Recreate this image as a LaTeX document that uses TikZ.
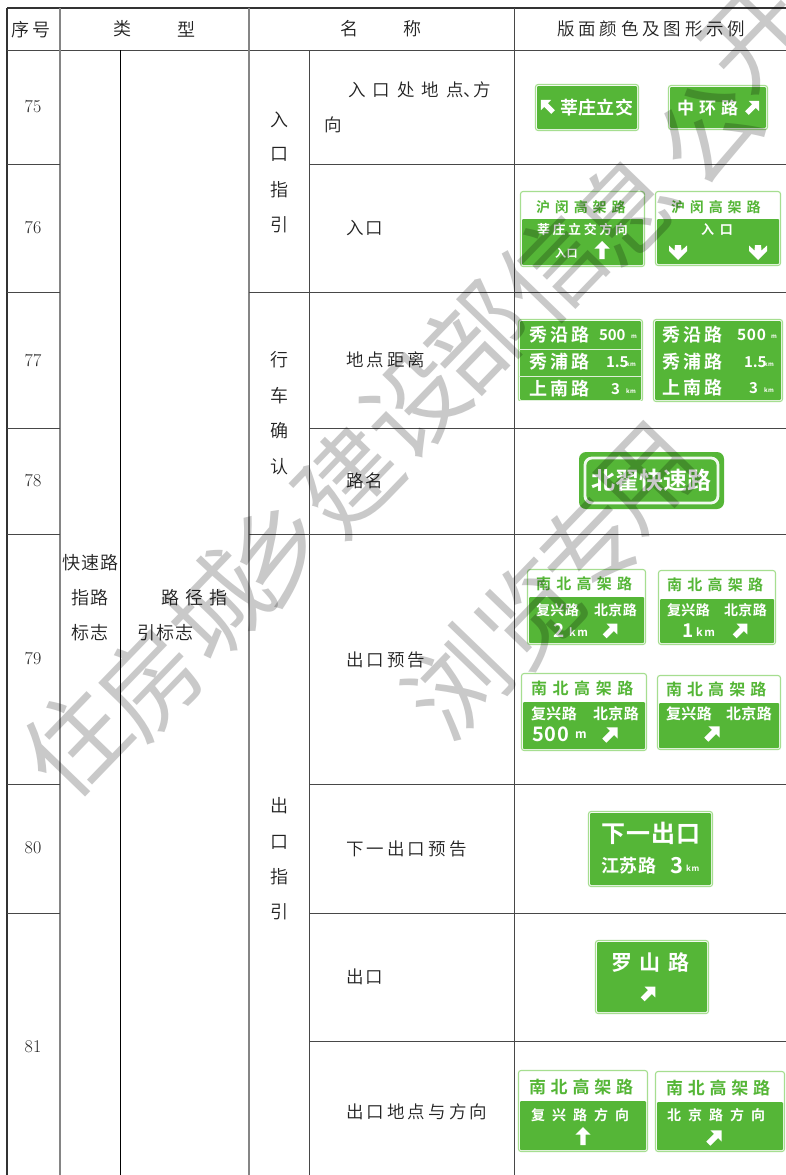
\documentclass[tikz,border=0pt]{standalone}
\usepackage{fontspec}
\newfontfamily\cjk{Noto Sans CJK SC}[UprightFont={* DemiLight}]
\newfontfamily\cjkm{Noto Sans CJK SC}
\newfontfamily\cjkb{Noto Sans CJK SC Bold}
\definecolor{sg}{HTML}{55B637}
\definecolor{sl}{HTML}{A6DE90}
\definecolor{wm}{HTML}{C9C9C9}
\definecolor{ink}{HTML}{222222}
\newcounter{tn}
% table text: x y size letterspace text
\newcommand{\tx}[5]{\stepcounter{tn}\node[tb] (t\arabic{tn}) at (#1,#2) {\fontsize{#3}{#3}\selectfont\cjk\addfontfeature{LetterSpace=#4}#5};}
% serial number
\newcommand{\nm}[3]{\stepcounter{tn}\node[tb,anchor=center] (t\arabic{tn}) at (#1,#2) {\fontsize{18}{18}\selectfont\addfontfeature{LetterSpace=9}#3};}
% sign text: x y size letterspace colour text
\newcommand{\st}[6]{\stepcounter{tn}\node[tb,text=#5] (t\arabic{tn}) at (#1,#2) {\fontsize{#3}{#3}\selectfont\cjkb\addfontfeature{LetterSpace=#4}#6};}
% plain sign: x1 y1 x2 y2
\newcommand{\sgn}[4]{%
  \fill[white,rounded corners=2.5] (#1,#2) rectangle (#3,#4);
  \draw[sl,line width=1.1,rounded corners=2.5] (#1+.5,#2+.5) rectangle (#3-.5,#4-.5);
  \fill[sg,rounded corners=1.2] (#1+2,#2+2) rectangle (#3-2,#4-2);}
% two-part sign: x1 y1 x2 y2 ybreak
\newcommand{\sgnt}[5]{%
  \fill[white,rounded corners=2.5] (#1,#2) rectangle (#3,#4);
  \draw[sl,line width=1.1,rounded corners=2.5] (#1+.5,#2+.5) rectangle (#3-.5,#4-.5);
  \fill[sg,rounded corners=1] (#1+2,#5) rectangle (#3-2,#4-2);}
% arrow: x y rotation scale
\newcommand{\arw}[4]{\fill[white,shift={(#1,#2)},rotate=#3,scale=#4] (0,-10) -- (8.5,-1.5) -- (3,-1.5) -- (3,10) -- (-3,10) -- (-3,-1.5) -- (-8.5,-1.5) -- cycle;}
% double-headed down arrow: x y
\newcommand{\dar}[2]{\fill[white,shift={(#1,#2)}] (0,8) -- (-9,-1) -- (-9,-6.5) -- (-3.5,-1.5) -- (-3,-7) -- (3,-7) -- (3.5,-1.5) -- (9,-6.5) -- (9,-1) -- cycle;}
\newcommand{\wmc}[3]{\stepcounter{tn}\node[wmark] (t\arabic{tn}) at (#1,#2) {#3};}
\tikzset{
  tb/.style={anchor=west,inner sep=0,outer sep=0,text=ink},
  wmark/.style={inner sep=0,text=wm,rotate=46,font={\fontsize{100}{100}\selectfont\cjkm}},
  thin line/.style={line width=1,draw=black!72},
  mid line/.style={line width=1.8,draw=black!48}
}
\begin{document}
\begin{tikzpicture}[x=1pt,y=-1pt]
\useasboundingbox (0,0) rectangle (786,1175);
\fill[white] (0,0) rectangle (786,1175);
% table rules
\draw[line width=1.8,draw=black!80] (7,8) -- (786,8);
\draw[line width=2,draw=black!80] (7,8) -- (7,1175);
\draw[thin line] (7,50.5) -- (786,50.5);
\draw[mid line] (60,8) -- (60,1175);
\draw[line width=.9,draw=black] (120.5,50) -- (120.5,1175);
\draw[mid line] (249,8) -- (249,1175);
\draw[thin line] (309.5,50) -- (309.5,1175);
\draw[thin line] (514,8) -- (514,1175);
\foreach \y in {164,292,428,534,784,913} \draw[thin line] (7,\y) -- (60,\y);
\foreach \y in {164,428,784,913,1041} \draw[thin line] (309,\y) -- (786,\y);
\foreach \y in {292,534} \draw[thin line] (249,\y) -- (786,\y);
% header
\tx{12}{30}{18}{12}{序号}
\tx{113}{29}{18}{0}{类}
\tx{177}{29}{18}{0}{型}
\tx{340}{29}{18}{0}{名}
\tx{403}{29}{18}{0}{称}
\tx{557}{29}{17.5}{22}{版面颜色及图形示例}
% serial numbers
\nm{33}{107}{75}
\nm{33}{228}{76}
\nm{33}{361}{77}
\nm{33}{481}{78}
\nm{33}{659}{79}
\nm{33}{848}{80}
\nm{33}{1047}{81}
% type cells
\tx{62}{563}{18}{7}{快速路}
\tx{71}{598}{18}{10}{指路}
\tx{71}{633}{18}{10}{标志}
\tx{161}{598}{18}{35}{路径指}
\tx{137}{633}{18}{7}{引标志}
% sub-category cells
\tx{270}{120}{18}{0}{入}
\tx{270}{154}{18}{0}{口}
\tx{270}{190}{18}{0}{指}
\tx{270}{225}{18}{0}{引}
\tx{270}{360}{18}{0}{行}
\tx{270}{396}{18}{0}{车}
\tx{270}{431}{18}{0}{确}
\tx{270}{467}{18}{0}{认}
\tx{270}{806}{18}{0}{出}
\tx{270}{842}{18}{0}{口}
\tx{270}{877}{18}{0}{指}
\tx{270}{912}{18}{0}{引}
% names
\tx{348}{90}{17.5}{40}{入口处地点\makebox[10pt][l]{、}方}
\tx{324}{125}{17.5}{0}{向}
\tx{346}{228}{17.5}{10}{入口}
\tx{346}{360}{17.5}{18}{地点距离}
\tx{346}{481}{17.5}{10}{路名}
\tx{346}{660}{17.5}{18}{出口预告}
\tx{346}{849}{17.5}{18}{下一出口预告}
\tx{346}{977}{17.5}{10}{出口}
\tx{346}{1112}{17.5}{18}{出口地点与方向}
% sign 75
\sgn{535}{84}{639}{131}
\arw{547}{106}{45}{.85}
\st{560}{108}{18}{2}{white}{莘庄立交}
\sgn{668}{85}{768}{130}
\st{677}{108}{17}{30}{white}{中环路}
\arw{753}{107}{-45}{.85}
% sign 76
\sgnt{520}{191}{645}{267}{219}
\st{536}{207}{14}{35}{sg}{沪闵高架路}
\st{537}{229}{13}{20}{white}{莘庄立交方向}
\st{555}{253}{11}{5}{white}{入口}
\arw{602}{250}{0}{.9}
\sgnt{655}{191}{781}{266}{219}
\st{671}{207}{14}{35}{sg}{沪闵高架路}
\st{701}{230}{13}{45}{white}{入口}
\dar{678}{252}
\dar{758}{252}
% sign 77 left (banded)
\sgn{518}{319}{643}{402}
\fill[white] (518,401) rectangle (643,403);
\draw[line width=1,draw=white!80!sg] (519,349) -- (642,349);
\draw[line width=1,draw=white!80!sg] (519,376) -- (642,376);
\st{529}{335}{18}{18}{white}{秀沿路}
\st{599}{335}{15}{0}{white}{500}
\st{631}{337}{6}{0}{white}{m}
\st{529}{362}{18}{18}{white}{秀浦路}
\st{606}{362}{15}{0}{white}{1.5}
\st{626}{364}{6}{8}{white}{km}
\st{529}{389}{18}{18}{white}{上南路}
\st{611}{389}{15}{0}{white}{3}
\st{626}{391}{6}{8}{white}{km}
% sign 77 right
\sgn{653}{319}{783}{402}
\st{662}{335}{18}{18}{white}{秀沿路}
\st{737}{335}{15.5}{5}{white}{500}
\st{771}{337}{6}{0}{white}{m}
\st{662}{362}{18}{18}{white}{秀浦路}
\st{744}{362}{15}{0}{white}{1.5}
\st{764}{364}{6}{8}{white}{km}
\st{662}{388}{18}{18}{white}{上南路}
\st{749}{388}{15}{0}{white}{3}
\st{764}{390}{6}{8}{white}{km}
% sign 78
\fill[sg,rounded corners=7] (579,452) rectangle (724,509);
\draw[white!92!sg,line width=2.8,rounded corners=7] (585,458) rectangle (718,503);
\st{591}{480}{24}{0}{white}{北翟快速路}
% sign 79
\sgnt{527}{569}{646}{645}{597}
\st{536}{584}{15}{35}{sg}{南北高架路}
\st{536}{610}{14}{3}{white}{复兴路}
\st{594}{610}{14}{3}{white}{北京路}
\st{553}{631}{19}{0}{white}{2}
\st{569}{632}{11}{15}{white}{km}
\arw{611}{630}{-45}{.9}
\sgnt{658}{570}{776}{645}{599}
\st{667}{585}{15}{35}{sg}{南北高架路}
\st{667}{610}{14}{3}{white}{复兴路}
\st{724}{610}{14}{3}{white}{北京路}
\st{682}{631}{19}{0}{white}{1}
\st{696}{632}{11}{15}{white}{km}
\arw{741}{630}{-45}{.9}
\sgnt{521}{673}{647}{751}{702}
\st{531}{688}{16}{35}{sg}{南北高架路}
\st{531}{714}{15}{3}{white}{复兴路}
\st{593}{714}{15}{3}{white}{北京路}
\st{532}{734}{20}{5}{white}{500}
\st{575}{735}{12}{0}{white}{m}
\arw{611}{734}{-45}{.95}
\sgnt{657}{675}{781}{750}{703}
\st{666}{689}{16}{32}{sg}{南北高架路}
\st{666}{714}{15}{3}{white}{复兴路}
\st{726}{714}{15}{3}{white}{北京路}
\arw{713}{733}{-45}{.95}
% sign 80
\sgn{588}{811}{713}{887}
\st{601}{833}{24}{5}{white}{下一出口}
\st{601}{866}{18}{3}{white}{江苏路}
\st{670}{866}{22}{0}{white}{3}
\st{686}{868}{8}{10}{white}{km}
% sign 81
\sgn{595}{940}{709}{1014}
\st{611}{963}{21}{38}{white}{罗山路}
\arw{649}{993}{-45}{.9}
\sgnt{518}{1070}{648}{1152}{1101}
\st{529}{1087}{17}{28}{sg}{南北高架路}
\st{531}{1115}{14}{50}{white}{复兴路方向}
\arw{583}{1136}{0}{.9}
\sgnt{655}{1071}{785}{1152}{1102}
\st{666}{1088}{17}{28}{sg}{南北高架路}
\st{667}{1115}{14}{50}{white}{北京路方向}
\arw{715}{1137}{-45}{.95}
% watermark
\begin{scope}[blend mode=multiply]
\wmc{75}{742}{住}
\wmc{150}{682}{房}
\wmc{218}{605}{城}
\wmc{277}{550}{乡}
\wmc{348}{480}{建}
\wmc{415}{405}{设}
\wmc{477}{337}{部}
\wmc{552}{268}{信}
\wmc{625}{208}{息}
\wmc{708}{132}{公}
\wmc{755}{38}{开}
\wmc{457}{683}{浏}
\wmc{530}{613}{览}
\wmc{590}{547}{专}
\wmc{648}{478}{用}
\end{scope}
\end{tikzpicture}
\end{document}
